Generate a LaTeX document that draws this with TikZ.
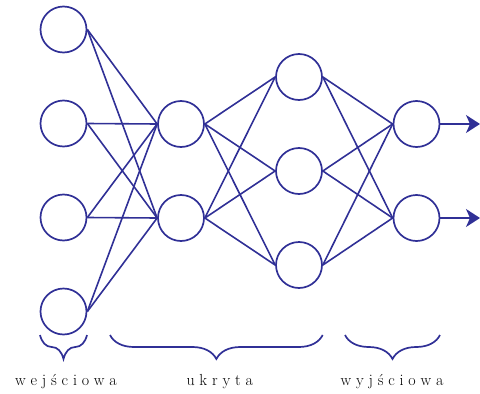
\documentclass[tikz,border=0pt]{standalone}
\usepackage{fontspec}
\usetikzlibrary{arrows.meta,decorations.pathreplacing}
\definecolor{netblue}{RGB}{48,48,150}
% gap between the letters of the layer names
\newcommand\lgap{\kern4.8pt}
\begin{document}
\begin{tikzpicture}[x=1pt,y=-1pt,
  neuron/.style={circle,draw=netblue,line width=1.7pt,minimum size=46pt,inner sep=0pt},
  link/.style={draw=netblue,line width=1.6pt},
  outarrow/.style={draw=netblue,line width=1.6pt,-{Stealth[length=14pt,width=18pt,inset=4pt]}},
  layerbrace/.style={draw=netblue,line width=1.7pt,decorate,decoration={brace,mirror,amplitude=24pt}},
  layername/.style={text=black,font=\fontsize{16}{19}\selectfont,anchor=base,inner sep=0pt}]
\useasboundingbox (0,0) rectangle (480,394);

% input layer
\node[neuron] (i1) at (63.5,29.5) {};
\node[neuron] (i2) at (63.5,123.5) {};
\node[neuron] (i3) at (63.5,217.5) {};
\node[neuron] (i4) at (63.5,311.5) {};
% first hidden layer
\node[neuron] (a1) at (181,124) {};
\node[neuron] (a2) at (181,218) {};
% second hidden layer
\node[neuron] (b1) at (299,77) {};
\node[neuron] (b2) at (299,171) {};
\node[neuron] (b3) at (299,265) {};
% output layer
\node[neuron] (o1) at (416.5,124) {};
\node[neuron] (o2) at (416.5,218) {};

% connections between consecutive layers
\foreach \s in {i1,i2,i3,i4}
  \foreach \t in {a1,a2}
    \draw[link] (\s.east) -- (\t.west);
\foreach \s in {a1,a2}
  \foreach \t in {b1,b2,b3}
    \draw[link] (\s.east) -- (\t.west);
\foreach \s in {b1,b2,b3}
  \foreach \t in {o1,o2}
    \draw[link] (\s.east) -- (\t.west);

% outputs
\coordinate (e1) at (480,124);
\coordinate (e2) at (480,218);
\draw[outarrow] (o1.east) -- (e1);
\draw[outarrow] (o2.east) -- (e2);

% layer braces
\coordinate (w0) at (40,335);
\coordinate (w1) at (87,335);
\coordinate (h0) at (110,335);
\coordinate (h1) at (322.7,335);
\coordinate (y0) at (345,335);
\coordinate (y1) at (440,335);
\draw[layerbrace] (w0) -- (w1);
\draw[layerbrace] (h0) -- (h1);
\draw[layerbrace] (y0) -- (y1);

% layer names
\node[layername] (lw) at (66,385.5) {w\lgap e\lgap j\lgap ś\lgap c\lgap i\lgap o\lgap w\lgap a};
\node[layername] (lh) at (219.7,385.5) {u\lgap k\lgap r\lgap y\lgap t\lgap a};
\node[layername] (ly) at (392,385.5) {w\lgap y\lgap j\lgap ś\lgap c\lgap i\lgap o\lgap w\lgap a};
\end{tikzpicture}
\end{document}
